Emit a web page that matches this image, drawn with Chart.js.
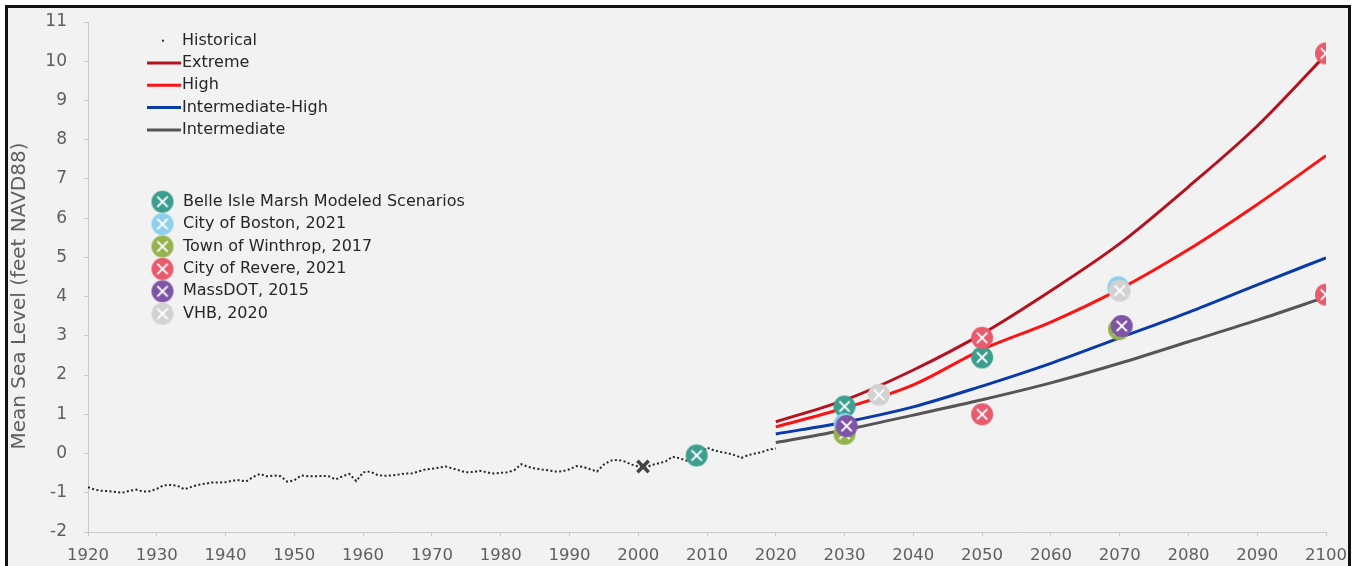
<!DOCTYPE html>
<html>
<head>
<meta charset="utf-8">
<script src="https://cdn.jsdelivr.net/npm/chart.js@4/dist/chart.umd.min.js"></script>
<style>
  html, body { margin: 0; padding: 0; background: #fff; }
  canvas { display: block; }
</style>
</head>
<body>
<canvas id="chart" width="1354" height="566"></canvas>
<script>
// Mean sea level, Boston harbor: historical record + projection scenarios

const HIST_START = 1920;
const historical = [
  -0.86, -0.92, -0.95, -0.96, -0.98, -1.00, -0.95, -0.92, -0.97, -0.96,
  -0.90, -0.81, -0.80, -0.82, -0.91, -0.85, -0.80, -0.77, -0.74, -0.74,
  -0.73, -0.69, -0.68, -0.71, -0.60, -0.52, -0.58, -0.56, -0.58, -0.72,
  -0.68, -0.56, -0.58, -0.58, -0.57, -0.58, -0.66, -0.58, -0.52, -0.70,
  -0.48, -0.46, -0.54, -0.57, -0.56, -0.54, -0.51, -0.51, -0.46, -0.41,
  -0.39, -0.36, -0.33, -0.38, -0.43, -0.48, -0.47, -0.44, -0.48, -0.51,
  -0.49, -0.48, -0.42, -0.27, -0.34, -0.38, -0.41, -0.43, -0.46, -0.45,
  -0.40, -0.32, -0.34, -0.40, -0.46, -0.28, -0.18, -0.16, -0.20, -0.28,
  -0.33, -0.36, -0.29, -0.25, -0.20, -0.08, -0.12, -0.18, -0.12, -0.02,
   0.15,  0.08,  0.04,  0.01, -0.04, -0.11, -0.04,  0.00,  0.04,  0.10,
   0.13,
];

const projYears    = [2020, 2030, 2040, 2050, 2060, 2070, 2080, 2090, 2100];
const extreme      = [0.81, 1.36, 2.13, 3.05, 4.15, 5.35, 6.80, 8.35, 10.17];
const high         = [0.68, 1.16, 1.75, 2.65, 3.35, 4.19, 5.20, 6.35, 7.59];
const intHigh      = [0.50, 0.80, 1.19, 1.72, 2.30, 2.95, 3.60, 4.30, 4.99];
const intermediate = [0.28, 0.60, 0.98, 1.37, 1.80, 2.30, 2.85, 3.40, 3.99];

const benchYears  = [2000.7];
const benchValues = [-0.33];

const belleYears    = [2008.5, 2030, 2050];
const belleValues   = [-0.05, 1.20, 2.45];
const bostonYears   = [2030, 2069.8];
const bostonValues  = [0.75, 4.24];
const winthropYears = [2030, 2069.9];
const winthropValues = [0.50, 3.17];
const revereYears   = [2050, 2050, 2100, 2100];
const revereValues  = [2.95, 1.00, 10.20, 4.05];
const massdotYears  = [2030.3, 2070.3];
const massdotValues = [0.70, 3.25];
const vhbYears      = [2035, 2070];
const vhbValues     = [1.50, 4.15];

const yTicks = [-2, -1, 0, 1, 2, 3, 4, 5, 6, 7, 8, 9, 10, 11];
const xTicks = [1920, 1930, 1940, 1950, 1960, 1970, 1980, 1990, 2000, 2010,
                2020, 2030, 2040, 2050, 2060, 2070, 2080, 2090, 2100];

const FONT = '"DejaVu Sans", sans-serif';
const TEXT = '#262626';
const AXIS_TEXT = '#5f5f5f';

function pts(xs, ys) {
  return xs.map((x, i) => ({ x, y: ys[i] }));
}

function makeMarker(color, r) {
  const c = document.createElement("canvas");
  const s = Math.ceil(r * 2 + 2);
  c.width = s;
  c.height = s;
  const g = c.getContext("2d");
  const m = s / 2;
  g.fillStyle = color;
  g.beginPath();
  g.arc(m, m, r, 0, Math.PI * 2);
  g.fill();
  g.strokeStyle = "#fff";
  g.lineWidth = 2;
  g.lineCap = "round";
  const a = r * 0.42;
  g.beginPath();
  g.moveTo(m - a, m - a); g.lineTo(m + a, m + a);
  g.moveTo(m + a, m - a); g.lineTo(m - a, m + a);
  g.stroke();
  return c;
}

function lineSet(label, data, color, order) {
  return {
    type: "line", label, data, order,
    borderColor: color, borderWidth: 3,
    pointRadius: 0, cubicInterpolationMode: "monotone",
    legendGroup: "lines",
  };
}

function markSet(label, data, color, order) {
  const img = makeMarker(color, 11);
  return {
    type: "scatter", label, data, order,
    pointStyle: img, showLine: false,
    legendGroup: "marks", legendImg: img,
  };
}

const histData = historical.map((v, i) => ({ x: HIST_START + i, y: v }));

const datasets = [
  {
    type: "line", label: "Historical", data: histData, order: 20,
    borderColor: "#222", borderWidth: 2, borderDash: [2, 2.4],
    pointRadius: 0, tension: 0, legendGroup: "lines", legendDot: true,
  },
  lineSet("Extreme", pts(projYears, extreme), "#b3121e", 14),
  lineSet("High", pts(projYears, high), "#fa1414", 13),
  lineSet("Intermediate-High", pts(projYears, intHigh), "#0a3aa6", 12),
  lineSet("Intermediate", pts(projYears, intermediate), "#555555", 11),
  markSet("Belle Isle Marsh Modeled Scenarios", pts(belleYears, belleValues), "#3b9e8e", 6),
  markSet("City of Boston, 2021", pts(bostonYears, bostonValues), "#8ecfee", 5),
  markSet("Town of Winthrop, 2017", pts(winthropYears, winthropValues), "#93b34d", 4),
  markSet("City of Revere, 2021", pts(revereYears, revereValues), "#e95a6d", 3),
  markSet("MassDOT, 2015", pts(massdotYears, massdotValues), "#7e54a6", 2),
  markSet("VHB, 2020", pts(vhbYears, vhbValues), "#d2d2d2", 1),
  {
    type: "scatter", label: "", data: pts(benchYears, benchValues), order: 7,
    pointStyle: "crossRot", pointRadius: 8, borderWidth: 3.5,
    borderColor: "#444", showLine: false,
  },
];

// frame, grey plot background, y title and the two legend blocks
const decor = {
  id: "decor",
  beforeDraw(chart) {
    const ctx = chart.ctx;
    ctx.save();
    ctx.fillStyle = "#fff";
    ctx.fillRect(0, 0, chart.width, chart.height);
    ctx.fillStyle = "#f2f2f2";
    ctx.fillRect(5, 5, 1346, chart.height - 5);
    ctx.fillStyle = "#111";
    ctx.fillRect(5, 5, 1346, 3);
    ctx.fillRect(5, 5, 3, chart.height - 5);
    ctx.fillRect(1348, 5, 3, chart.height - 5);
    ctx.restore();
  },
  afterDraw(chart) {
    const ctx = chart.ctx;
    ctx.save();
    ctx.translate(20, 296);
    ctx.rotate(-Math.PI / 2);
    ctx.font = "20px " + FONT;
    ctx.fillStyle = AXIS_TEXT;
    ctx.textAlign = "center";
    ctx.textBaseline = "middle";
    ctx.fillText("Mean Sea Level (feet NAVD88)", 0, 0);
    ctx.restore();

    ctx.save();
    ctx.font = "16px " + FONT;
    ctx.textBaseline = "middle";
    let ly = 40.7;
    let my = 201.7;
    chart.data.datasets.forEach(ds => {
      if (ds.legendGroup === "lines") {
        if (ds.legendDot) {
          ctx.fillStyle = "#333";
          ctx.fillRect(162, ly - 1, 2, 2);
        } else {
          ctx.strokeStyle = ds.borderColor;
          ctx.lineWidth = 3;
          ctx.beginPath();
          ctx.moveTo(147, ly);
          ctx.lineTo(181, ly);
          ctx.stroke();
        }
        ctx.fillStyle = TEXT;
        ctx.fillText(ds.label, 182, ly);
        ly += 22.3;
      } else if (ds.legendGroup === "marks") {
        const img = ds.legendImg;
        ctx.drawImage(img, 162.5 - img.width / 2, my - img.height / 2);
        ctx.fillStyle = TEXT;
        ctx.fillText(ds.label, 183, my);
        my += 22.4;
      }
    });
    ctx.restore();
  },
};

new Chart(document.getElementById("chart"), {
  data: { datasets },
  plugins: [decor],
  options: {
    responsive: false,
    animation: false,
    events: [],
    layout: { padding: { top: 22, right: 28, left: 0, bottom: 0 } },
    plugins: { legend: { display: false }, tooltip: { enabled: false } },
    scales: {
      x: {
        type: "linear", min: 1920, max: 2100,
        afterBuildTicks(s) { s.ticks = xTicks.map(v => ({ value: v })); },
        afterFit(s) { s.height = 34; s.paddingLeft = 0; s.paddingRight = 0; },
        border: { color: "#c8c8c8", width: 1 },
        grid: { drawOnChartArea: false, tickLength: 4, color: "#c8c8c8" },
        ticks: {
          padding: 10, color: AXIS_TEXT, maxRotation: 0, autoSkip: false,
          font: { family: FONT, size: 16.5 },
          callback: v => String(v),
        },
      },
      y: {
        type: "linear", min: -2, max: 11,
        afterBuildTicks(s) { s.ticks = yTicks.map(v => ({ value: v })); },
        afterFit(s) { s.width = 88; s.paddingTop = 0; s.paddingBottom = 0; },
        border: { color: "#c8c8c8", width: 1 },
        grid: { drawOnChartArea: false, tickLength: 4, color: "#c8c8c8" },
        ticks: {
          padding: 17, color: AXIS_TEXT, autoSkip: false,
          font: { family: FONT, size: 17 },
          callback: v => String(v),
        },
      },
    },
  },
});
</script>
</body>
</html>
